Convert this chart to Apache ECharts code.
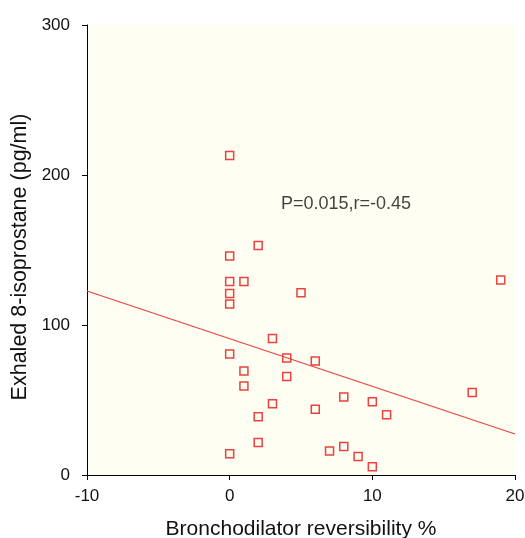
<!DOCTYPE html>
<html><head><meta charset="utf-8">
<script src="https://cdn.jsdelivr.net/npm/echarts@6/dist/echarts.min.js"></script>
<style>html,body{margin:0;padding:0;background:#fff}#c{width:525px;height:538px}</style>
</head><body><div id="c"></div>
<script>
var reversibility = [0, 2, 0, 0, 1, 5, 0, 0, 3, 0, 4, 6, 1, 4, 1, 17, 8, 3, 10, 6, 11, 2, 2, 8, 7, 0, 9, 10, 19];
var isoprostane = [213, 153, 146, 129, 129, 121.5, 121, 114, 91, 80.7, 78, 76, 69.3, 65.6, 59.3, 55, 52, 47.5, 48.8, 43.8, 40.2, 38.9, 21.6, 19, 16, 14.2, 12.4, 5.5, 130];
var fitX = [-10, 20];
var fitY = [122.7, 27.3];
var xTicks = [-10, 0, 10, 20];
var yTicks = [0, 100, 200, 300];
var annotation = 'P=0.015,r=-0.45';
var annotationAt = [3.6, 180.5];

var pts = reversibility.map(function(x, i){ return [x, isoprostane[i]]; });
var chart = echarts.init(document.getElementById('c'));
var font = 'Liberation Sans, Arial, sans-serif';
chart.setOption({
  animation: false,
  grid: {left: 87, right: 10, top: 25, bottom: 63, show: true, backgroundColor: '#FFFEF3', borderWidth: 0,
         containLabel: false, outerBoundsMode: 'none'},
  xAxis: {
    type: 'value', min: xTicks[0], max: xTicks[xTicks.length-1], interval: 10,
    name: 'Bronchodilator reversibility %', nameLocation: 'middle', nameGap: 44,
    nameTextStyle: {fontFamily: font, fontSize: 21, color: '#111'},
    axisLine: {onZero: false, lineStyle: {color: '#000', width: 1}},
    axisTick: {length: 5, lineStyle: {color: '#000'}},
    axisLabel: {fontFamily: font, fontSize: 17, color: '#111', margin: 13},
    splitLine: {show: false}
  },
  yAxis: {
    type: 'value', min: yTicks[0], max: yTicks[yTicks.length-1], interval: 100,
    name: 'Exhaled 8-isoprostane (pg/ml)', nameLocation: 'middle', nameGap: 55,
    nameTextStyle: {fontFamily: font, fontSize: 21.5, color: '#111', padding: [0, 14, 0, 0]},
    axisLine: {show: true, onZero: false, lineStyle: {color: '#000', width: 1}},
    axisTick: {show: true, length: 5, lineStyle: {color: '#000'}},
    axisLabel: {fontFamily: font, fontSize: 17, color: '#111', margin: 17},
    splitLine: {show: false}
  },
  series: [
    {
      type: 'line', data: fitX.map(function(x,i){return [x, fitY[i]];}),
      symbol: 'none', lineStyle: {color: '#E8433D', width: 1.2}, z: 2
    },
    {
      type: 'scatter', data: pts, symbol: 'rect', symbolSize: 8,
      itemStyle: {color: 'transparent', borderColor: '#E8433D', borderWidth: 1.5, opacity: 1}, z: 3
    },
    {
      type: 'scatter', data: [annotationAt], symbolSize: 0, silent: true,
      label: {show: true, position: 'right', distance: 0, formatter: annotation, fontFamily: font, fontSize: 18, color: '#111'}
    }
  ]
});
</script></body></html>
